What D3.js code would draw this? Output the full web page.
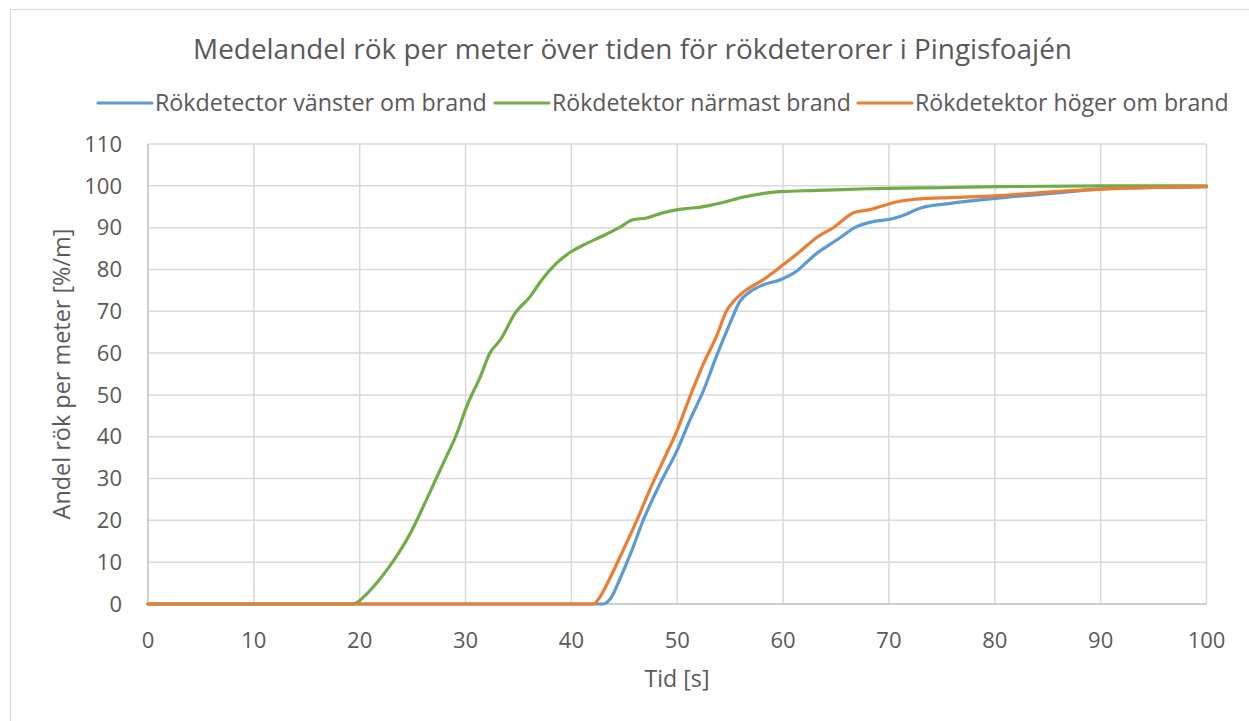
<!DOCTYPE html>
<html><head><meta charset="utf-8">
<script src="https://cdn.jsdelivr.net/npm/d3@7"></script>
<style>body{margin:0;background:#fff}svg{display:block}text{font-family:"Open Sans",sans-serif;fill:#595959}</style>
</head><body>
<svg id="c" width="1249" height="721"></svg>
<script>
const title = "Medelandel rök per meter över tiden för rökdeterorer i Pingisfoajén";
const xTitle = "Tid [s]";
const yTitle = "Andel rök per meter [%/m]";
const seriesNames = ["Rökdetector vänster om brand","Rökdetektor närmast brand","Rökdetektor höger om brand"];
const seriesColors = ["#5B9BD5","#70AD47","#ED7D31"];
const xTicks = [0,10,20,30,40,50,60,70,80,90,100];
const yTicks = [0,10,20,30,40,50,60,70,80,90,100,110];

// [time s, value %/m]
const vanster = [[0,0],[10,0],[20,0],[30,0],[40,0],[43.0,0],[43.8,1.7],[44.6,6.1],[45.6,12.1],[46.8,20.1],[48.4,28.9],[50.0,36.8],[51.2,44],[52.5,51.2],[53.7,59.2],[55.0,67.2],[55.9,72.3],[56.9,74.7],[58.1,76.3],[59.7,77.5],[61.0,79.1],[63.2,83.9],[65.1,87.1],[67.0,90.3],[68.6,91.5],[70.1,92.0],[71.1,92.7],[73.0,94.7],[75.8,95.8],[80.1,97.0],[85.3,98.2],[90,99.2],[95,99.6],[100,99.8]];
const narmast = [[0,0],[10,0],[19.4,0],[20.5,2],[21.6,5],[22.9,9.3],[24.8,17],[26.3,24.9],[27.9,33.7],[29.2,40.9],[30.1,47.2],[31.4,54.4],[32.3,60],[33.3,63.2],[34.7,69.6],[36.1,73.5],[37.2,77.5],[38.6,81.5],[40.0,84.3],[41.5,86.3],[42.7,87.7],[44.6,90.1],[45.8,91.9],[47.1,92.3],[48.7,93.6],[50.6,94.5],[52.2,94.9],[54.3,96],[56.2,97.3],[59.7,98.6],[63.2,98.9],[67.9,99.3],[75.8,99.6],[80.5,99.8],[90,100],[100,100]];
const hoger = [[0,0],[10,0],[20,0],[30,0],[40,0],[42.1,0],[42.7,1.7],[43.7,6.5],[44.9,12.9],[46.2,20.1],[47.4,27.3],[48.7,34.4],[50.0,41.6],[51.2,49.6],[52.5,57.6],[53.7,64],[54.7,70.3],[55.3,72.3],[56.3,74.7],[58.1,77.5],[60.0,81.1],[61.6,84.3],[63.2,87.7],[64.8,90.1],[66.7,93.6],[68.2,94.3],[70.8,96.2],[72.6,96.8],[75.8,97.2],[80.0,97.6],[85,98.5],[90,99.2],[95,99.6],[100,99.8]];
const seriesData = [vanster, narmast, hoger];

const svg = d3.select("#c");
const x = d3.scaleLinear().domain([0,100]).range([148,1206.5]);
const y = d3.scaleLinear().domain([0,110]).range([604,144]);

function fit(sel, w){ const n=sel.node(); let fs=parseFloat(sel.attr("font-size")); const l=n.getComputedTextLength(); sel.attr("font-size", fs*w/l); }

svg.append("rect").attr("x",10.5).attr("y",9.5).attr("width",1240).attr("height",720).attr("fill","none").attr("stroke","#d9d9d9");

// grid
svg.append("g").selectAll("line").data(yTicks.filter(d=>d>0)).join("line")
  .attr("x1",x(0)).attr("x2",x(100)).attr("y1",d=>y(d)).attr("y2",d=>y(d))
  .attr("stroke","#d9d9d9").attr("stroke-width",1.5);
svg.append("g").selectAll("line").data(xTicks.filter(d=>d>0)).join("line")
  .attr("x1",d=>x(d)).attr("x2",d=>x(d)).attr("y1",y(0)).attr("y2",y(110))
  .attr("stroke","#d9d9d9").attr("stroke-width",1.5);
svg.append("line").attr("x1",x(0)).attr("x2",x(0)).attr("y1",y(0)).attr("y2",y(110)).attr("stroke","#bfbfbf").attr("stroke-width",1.5);
svg.append("line").attr("x1",x(0)).attr("x2",x(100)).attr("y1",y(0)).attr("y2",y(0)).attr("stroke","#bfbfbf").attr("stroke-width",1.5);

// tick labels
svg.append("g").selectAll("text").data(yTicks).join("text")
  .attr("x",122).attr("y",d=>y(d)+7.7).attr("text-anchor","end").attr("font-size",22).text(d=>d);
svg.append("g").selectAll("text").data(xTicks).join("text")
  .attr("x",d=>x(d)).attr("y",647.5).attr("text-anchor","middle").attr("font-size",22).text(d=>d);

// axis titles
const xt = svg.append("text").attr("x",677).attr("y",687).attr("text-anchor","middle").attr("font-size",21).text(xTitle);
fit(xt, 65);
const yt = svg.append("text").attr("transform","translate(70,374) rotate(-90)").attr("text-anchor","middle").attr("font-size",20).text(yTitle);
fit(yt, 291);

// title
const tt = svg.append("text").attr("x",632.5).attr("y",59).attr("text-anchor","middle").attr("font-size",24).text(title);
fit(tt, 879);

// lines
const line = d3.line().x(d=>x(d[0])).y(d=>y(d[1])).curve(d3.curveMonotoneX);
svg.append("g").selectAll("path").data(seriesData).join("path")
  .attr("d",line).attr("fill","none").attr("stroke",(d,i)=>seriesColors[i]).attr("stroke-width",3.2).attr("stroke-linejoin","round").attr("stroke-linecap","round");

// legend
const legX = [98,495,858];
const legTextW = [332,299,314];
const lg = svg.append("g");
seriesNames.forEach((n,i)=>{
  lg.append("line").attr("x1",legX[i]).attr("x2",legX[i]+54).attr("y1",103).attr("y2",103).attr("stroke",seriesColors[i]).attr("stroke-width",3.2).attr("stroke-linecap","round");
  const t = lg.append("text").attr("x",legX[i]+57).attr("y",111).attr("font-size",20).text(n);
  fit(t, legTextW[i]);
});
</script>
</body></html>
